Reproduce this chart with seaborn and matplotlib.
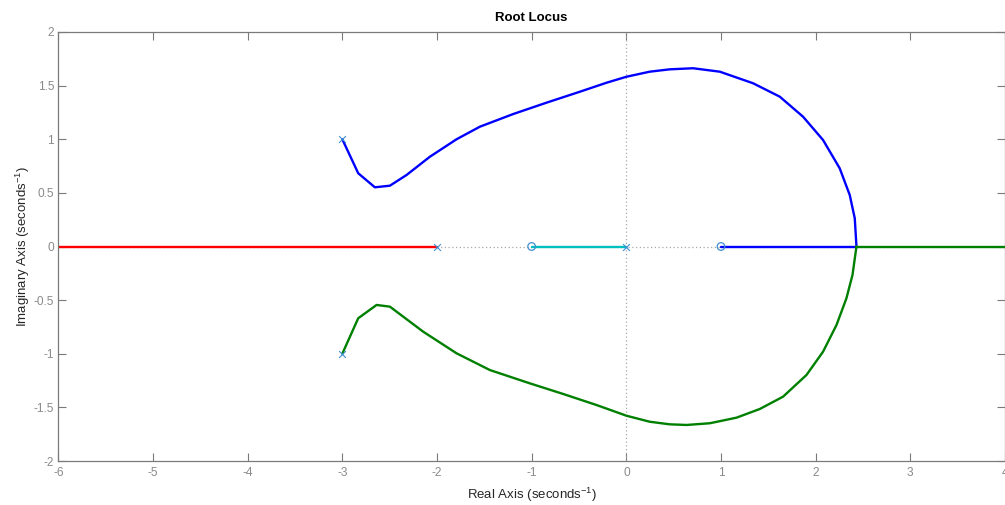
import matplotlib
matplotlib.use("Agg")
import matplotlib.pyplot as plt
import seaborn as sns
import pandas as pd

# ---- data ----
poles_re = [-3.0, -3.0, -2.0, 0.0]
poles_im = [1.0, -1.0, 0.0, 0.0]
zeros_re = [-1.0, 1.0]
zeros_im = [0.0, 0.0]

# upper complex branch (blue), from pole -3+j to break-in on real axis, then to zero at 1
blue_re = [-3.0, -2.832, -2.656, -2.497, -2.321, -2.075, -1.793, -1.547, -1.195, -0.843,
           -0.491, -0.209, 0.002, 0.248, 0.459, 0.705, 0.987, 1.339, 1.621, 1.867,
           2.078, 2.254, 2.360, 2.413, 2.431]
blue_im = [1.0, 0.683, 0.552, 0.567, 0.667, 0.837, 1.0, 1.117, 1.235, 1.341,
           1.443, 1.527, 1.583, 1.630, 1.652, 1.662, 1.630, 1.522, 1.397, 1.210,
           0.993, 0.729, 0.480, 0.263, 0.0]
blue_real_re = [2.431, 1.0]
blue_real_im = [0.0, 0.0]

# lower complex branch (green), from pole -3-j to break-in, then out to +inf
green_re = [-3.0, -2.832, -2.638, -2.497, -2.146, -1.793, -1.441, -1.019, -0.667, -0.315,
            0.002, 0.248, 0.459, 0.636, 0.882, 1.164, 1.410, 1.656, 1.903, 2.078,
            2.220, 2.325, 2.389, 2.431]
green_im = [-1.0, -0.669, -0.545, -0.561, -0.794, -0.996, -1.152, -1.276, -1.375, -1.478,
            -1.578, -1.634, -1.658, -1.664, -1.648, -1.596, -1.515, -1.400, -1.198, -0.981,
            -0.732, -0.483, -0.266, 0.0]
green_real_re = [2.431, 4.0]
green_real_im = [0.0, 0.0]

red_re = [-2.0, -6.0]
red_im = [0.0, 0.0]
cyan_re = [0.0, -1.0]
cyan_im = [0.0, 0.0]

x_ticks = [-6, -5, -4, -3, -2, -1, 0, 1, 2, 3, 4]
y_ticks = [-2, -1.5, -1, -0.5, 0, 0.5, 1, 1.5, 2]
y_ticklabels = ["-2", "-1.5", "-1", "-0.5", "0", "0.5", "1", "1.5", "2"]

# ---- figure ----
sns.set_theme(style="white")
plt.rcParams['font.family'] = ['Liberation Sans', 'DejaVu Sans']
plt.rcParams['mathtext.fontset'] = 'custom'
plt.rcParams['mathtext.rm'] = 'Liberation Sans'

fig = plt.figure(figsize=(10.05, 5.05), dpi=100)
ax = fig.add_axes([58.3 / 1005, 44 / 505, (1005 - 58.3) / 1005, (461 - 32) / 505])

# dotted zero lines
ax.axhline(0, color='#a8a8a8', lw=0.9, ls=(0, (1, 2)), zorder=1)
ax.axvline(0, color='#a8a8a8', lw=0.9, ls=(0, (1, 2)), zorder=1)

lw = 1.7
def branch(xs, ys, color):
    df = pd.DataFrame({"re": xs, "im": ys})
    sns.lineplot(data=df, x="re", y="im", sort=False, estimator=None,
                 color=color, lw=lw, ax=ax, zorder=2)

branch(red_re, red_im, '#ff0000')
branch(cyan_re, cyan_im, '#00bfbf')
branch(blue_re, blue_im, '#0000ff')
branch(blue_real_re, blue_real_im, '#0000ff')
branch(green_re, green_im, '#008000')
branch(green_real_re, green_real_im, '#008000')

mk = '#3f8fd2'
sns.scatterplot(x=poles_re, y=poles_im, marker='x', s=24, color=mk,
                linewidth=0.8, ax=ax, zorder=3)
sns.scatterplot(x=zeros_re, y=zeros_im, marker='o', s=30, facecolor='none',
                edgecolor=mk, linewidth=0.9, ax=ax, zorder=3)

ax.set_xlim(-6, 4)
ax.set_ylim(-2, 2)
ax.set_xticks(x_ticks)
ax.set_xticklabels([str(t) for t in x_ticks])
ax.set_yticks(y_ticks)
ax.set_yticklabels(y_ticklabels)

for s in ax.spines.values():
    s.set_color('#7a7a7a')
    s.set_linewidth(0.9)
    s.set_visible(True)

ax.tick_params(axis='both', direction='in', length=5.8, width=0.8, color='#7a7a7a',
               labelsize=8.6, labelcolor='#8a8a8a', top=True, right=True,
               bottom=True, left=True, pad=3)
ax.tick_params(axis='x', pad=4)

ax.set_xlabel("Real Axis (seconds$^{-1}$)", fontsize=9.5, color='#262626')
ax.set_ylabel("Imaginary Axis (seconds$^{-1}$)", fontsize=9.5, color='#262626')
aw = (1005 - 58.3)
ah = (461 - 32)
ax.xaxis.set_label_coords(0.5, -25 / ah)
ax.yaxis.set_label_coords(-26 / aw, 0.5)
ax.set_title("Root Locus", fontsize=9.5, fontweight='bold', color='#000000', pad=8)

fig.savefig("out.png", dpi=100)
